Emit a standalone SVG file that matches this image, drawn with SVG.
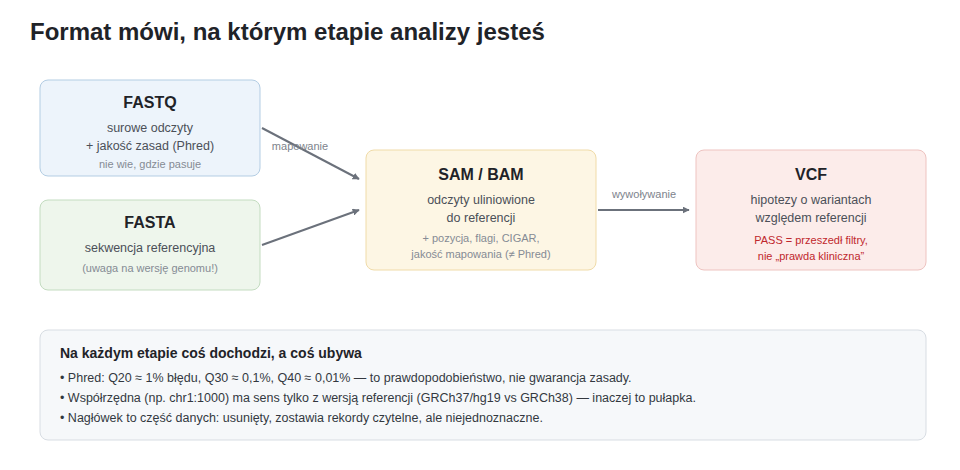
<svg xmlns="http://www.w3.org/2000/svg" width="960" height="470" viewBox="0 0 960 470">
<style>
text{font-family:"Liberation Sans",Arial,sans-serif}
.t{font-size:16px;font-weight:bold;fill:#1f2328;text-anchor:middle}
.b{font-size:12.5px;fill:#4b5058;text-anchor:middle}
.s{font-size:11px;fill:#858b94;text-anchor:middle}
.r{font-size:11px;fill:#c0282d;text-anchor:middle}
.l{font-size:11px;fill:#7d838c;text-anchor:middle}
.n{font-size:12.5px;fill:#33383f}
.c{stroke:#6b717b;stroke-width:2;fill:none;marker-end:url(#a)}
</style>
<defs><marker id="a" viewBox="0 0 10 10" refX="9" refY="5" markerWidth="7" markerHeight="7" orient="auto" markerUnits="userSpaceOnUse"><path d="M0,0L10,5L0,10z" fill="#6b717b"/></marker></defs>
<rect width="960" height="470" fill="#fff"/>
<text x="30" y="40" style="font-size:24px;font-weight:bold;fill:#1f2328">Format mówi, na którym etapie analizy jesteś</text>
<g id="fastq"><rect x="40" y="80" width="220" height="96" rx="8" fill="#edf4fb" stroke="#b3cde3"/>
<text class="t" x="150" y="108">FASTQ</text><text class="b" x="150" y="132">surowe odczyty</text><text class="b" x="150" y="150">+ jakość zasad (Phred)</text><text class="s" x="150" y="168">nie wie, gdzie pasuje</text></g>
<g id="fasta"><rect x="40" y="200" width="220" height="90" rx="8" fill="#eef6ec" stroke="#c3dcc0"/>
<text class="t" x="150" y="228">FASTA</text><text class="b" x="150" y="252">sekwencja referencyjna</text><text class="s" x="150" y="272">(uwaga na wersję genomu!)</text></g>
<g id="sam"><rect x="366" y="150" width="230" height="120" rx="8" fill="#fdf6e4" stroke="#f0dba8"/>
<text class="t" x="481" y="180">SAM / BAM</text><text class="b" x="481" y="204">odczyty uliniowione</text><text class="b" x="481" y="222">do referencji</text><text class="s" x="481" y="242">+ pozycja, flagi, CIGAR,</text><text class="s" x="481" y="258">jakość mapowania (≠ Phred)</text></g>
<g id="vcf"><rect x="696" y="150" width="230" height="120" rx="8" fill="#fcecea" stroke="#eec3c0"/>
<text class="t" x="811" y="180">VCF</text><text class="b" x="811" y="204">hipotezy o wariantach</text><text class="b" x="811" y="222">względem referencji</text><text class="r" x="811" y="244">PASS = przeszedł filtry,</text><text class="r" x="811" y="260">nie „prawda kliniczna”</text></g>
<g id="connectors">
<path class="c" d="M262,128L359,179"/>
<path class="c" d="M262,245L359,210"/>
<path class="c" d="M598,210L689,210"/>
<text class="l" x="300" y="150">mapowanie</text>
<text class="l" x="644" y="198">wywoływanie</text>
</g>
<g id="note"><rect x="40" y="330" width="886" height="110" rx="8" fill="#f6f8fa" stroke="#d8dde3"/>
<text x="60" y="358" style="font-size:14px;font-weight:bold;fill:#1f2328">Na każdym etapie coś dochodzi, a coś ubywa</text>
<text class="n" x="60" y="382">• Phred: Q20 ≈ 1% błędu, Q30 ≈ 0,1%, Q40 ≈ 0,01% — to prawdopodobieństwo, nie gwarancja zasady.</text>
<text class="n" x="60" y="402">• Współrzędna (np. chr1:1000) ma sens tylko z wersją referencji (GRCh37/hg19 vs GRCh38) — inaczej to pułapka.</text>
<text class="n" x="60" y="422">• Nagłówek to część danych: usunięty, zostawia rekordy czytelne, ale niejednoznaczne.</text></g>
</svg>
